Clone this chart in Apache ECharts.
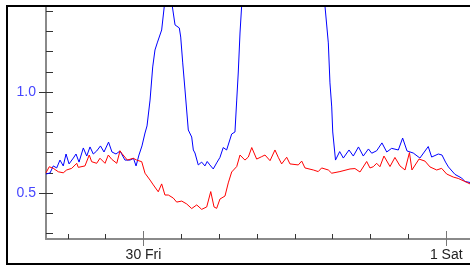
<!DOCTYPE html>
<html>
<head>
<meta charset="utf-8">
<script src="https://cdn.jsdelivr.net/npm/echarts@6/dist/echarts.min.js"></script>
<style>
html,body{margin:0;padding:0;background:#fff;}
#chart{width:470px;height:266px;}
</style>
</head>
<body>
<div id="chart"></div>
<script>
// Hours relative to "30 Fri" 00:00
var blueHours = [-7.73,-7.41,-7.15,-6.88,-6.62,-6.36,-6.14,-5.90,-5.56,-5.35,-5.11,-4.77,-4.50,-4.24,-3.98,-3.71,-3.41,-3.13,-2.77,-2.50,-2.18,-1.86,-1.47,-1.07,-0.79,-0.59,-0.36,-0.12,0.12,0.28,0.52,0.73,0.91,1.09,1.44,1.65,1.94,2.28,2.50,2.84,2.95,3.11,3.29,3.55,3.82,3.95,4.08,4.34,4.61,4.87,5.05,5.26,5.53,5.80,6.06,6.32,6.59,6.99,7.25,7.39,7.51,7.65,7.78,8.04,9.23,12.40,13.99,14.39,14.65,14.78,14.92,15.00,15.22,15.55,15.84,16.29,16.63,17.04,17.42,17.83,18.09,18.48,18.90,19.28,19.67,20.20,20.54,20.89,21.38,21.91,22.57,22.84,23.37,23.66,23.94,24.17,24.69,25.22,25.48,25.88];
var blueValues = [0.594,0.599,0.634,0.624,0.663,0.634,0.693,0.644,0.673,0.693,0.653,0.723,0.683,0.728,0.693,0.708,0.733,0.703,0.752,0.703,0.693,0.708,0.663,0.663,0.671,0.634,0.688,0.733,0.797,0.832,0.960,1.124,1.208,1.243,1.307,1.426,1.554,1.426,1.332,1.317,1.272,1.144,1.010,0.812,0.777,0.713,0.698,0.639,0.653,0.634,0.656,0.639,0.619,0.649,0.676,0.725,0.713,0.792,0.802,0.960,1.094,1.292,1.426,1.75,2.0,2.0,1.7,1.422,1.243,1.045,0.926,0.802,0.663,0.705,0.673,0.713,0.683,0.728,0.683,0.718,0.697,0.709,0.748,0.703,0.721,0.713,0.772,0.708,0.698,0.673,0.730,0.678,0.693,0.688,0.653,0.629,0.592,0.574,0.557,0.552];
var redHours = [-7.73,-7.47,-7.15,-6.75,-6.36,-6.09,-5.69,-5.29,-5.17,-4.64,-4.30,-4.11,-3.71,-3.45,-3.05,-2.79,-2.52,-2.12,-1.86,-1.73,-1.28,-1.07,-0.81,-0.54,-0.14,0.12,0.52,0.78,1.17,1.44,1.70,1.97,2.36,2.63,2.76,3.03,3.42,3.82,4.22,4.61,5.01,5.33,5.59,5.80,6.06,6.46,6.72,6.99,7.39,7.65,7.78,8.04,8.31,8.58,8.97,9.37,9.63,10.03,10.42,10.68,10.95,11.35,11.61,12.27,12.54,12.80,13.46,13.85,14.12,14.65,14.92,15.57,16.37,16.76,17.16,17.69,17.95,18.21,18.48,18.74,19.06,19.54,19.93,20.33,20.73,21.08,21.28,21.84,22.31,22.71,23.24,23.63,24.03,24.55,24.95,25.48,25.88];
var redValues = [0.600,0.630,0.622,0.605,0.600,0.614,0.622,0.647,0.627,0.634,0.688,0.655,0.647,0.672,0.647,0.688,0.667,0.647,0.709,0.697,0.663,0.667,0.672,0.663,0.655,0.598,0.564,0.540,0.506,0.545,0.490,0.490,0.475,0.455,0.450,0.460,0.446,0.423,0.441,0.419,0.431,0.507,0.431,0.424,0.470,0.485,0.550,0.604,0.631,0.688,0.697,0.663,0.678,0.725,0.668,0.680,0.688,0.660,0.713,0.677,0.644,0.677,0.644,0.639,0.658,0.624,0.614,0.606,0.624,0.614,0.598,0.606,0.619,0.621,0.604,0.656,0.624,0.630,0.647,0.630,0.683,0.631,0.676,0.634,0.614,0.700,0.614,0.668,0.658,0.629,0.614,0.622,0.594,0.579,0.572,0.557,0.545];

var xMinorTicks = [-6,-3,3,6,9,12,15,18,21];
var xMajorTicks = [0,24];
var xTickLabels = {0:'30 Fri', 24:'1 Sat'};
var yMinorTicks = [0.3,0.4,0.6,0.7,0.8,0.9,1.1,1.2,1.3,1.4];
var yMajorTicks = [0.5,1.0];

var X_MIN = -7.728, X_MAX = 25.88, Y_MIN = 0.2723, Y_MAX = 1.4257;

function pairs(h, v){ return h.map(function(t,i){ return [t, v[i]]; }); }

var font = 'Liberation Sans, Arial, sans-serif';
function xAxisBase(extra){
  var a = {type:'value', gridIndex:0, position:'bottom', min:X_MIN, max:X_MAX,
    splitLine:{show:false}, axisLine:{show:false, onZero:false}, axisLabel:{show:false}, axisTick:{show:false}};
  for (var k in extra) a[k] = extra[k];
  return a;
}
function yAxisBase(extra){
  var a = {type:'value', gridIndex:0, position:'left', min:Y_MIN, max:Y_MAX,
    splitLine:{show:false}, axisLine:{show:false, onZero:false}, axisLabel:{show:false}, axisTick:{show:false}};
  for (var k in extra) a[k] = extra[k];
  return a;
}

var chart = echarts.init(document.getElementById('chart'), null, {renderer:'canvas'});
chart.setOption({
  animation:false,
  backgroundColor:'#ffffff',
  grid:{left:46, top:6, right:0, bottom:27, containLabel:false},
  xAxis:[
    xAxisBase({axisLine:{show:true, onZero:false, lineStyle:{color:'#8a8a8a', width:2}},
      axisTick:{show:true, inside:true, length:5, customValues:xMinorTicks, lineStyle:{color:'#333', width:1}}}),
    xAxisBase({axisTick:{show:true, inside:true, length:8, customValues:xMajorTicks, lineStyle:{color:'#777', width:1}}}),
    xAxisBase({axisTick:{show:true, inside:false, length:7, customValues:xMajorTicks, lineStyle:{color:'#777', width:1}},
      axisLabel:{show:true, customValues:xMajorTicks, margin:9, color:'#222', fontSize:14, fontFamily:font,
        formatter:function(v){ return xTickLabels[Math.round(v)] || ''; }}})
  ],
  yAxis:[
    yAxisBase({axisLine:{show:true, onZero:false, lineStyle:{color:'#8a8a8a', width:2}},
      axisTick:{show:true, inside:true, length:7, customValues:yMinorTicks, lineStyle:{color:'#333', width:1}}}),
    yAxisBase({axisTick:{show:true, inside:true, length:7, customValues:yMajorTicks, lineStyle:{color:'#333', width:1}}}),
    yAxisBase({axisTick:{show:true, inside:false, length:7, customValues:yMajorTicks, lineStyle:{color:'#333', width:1}},
      axisLabel:{show:true, customValues:yMajorTicks, margin:10, color:'#4646ff', fontSize:14, fontFamily:font,
        formatter:function(v){ return v.toFixed(1); }}})
  ],
  series:[
    {type:'line', xAxisIndex:0, yAxisIndex:0, data:pairs(blueHours, blueValues), showSymbol:false, symbol:'none',
      clip:true, lineStyle:{color:'#0000ff', width:1}, z:2},
    {type:'line', xAxisIndex:0, yAxisIndex:0, data:pairs(redHours, redValues), showSymbol:false, symbol:'none',
      clip:true, lineStyle:{color:'#ff0000', width:1}, z:3}
  ],
  graphic:[{type:'rect', shape:{x:7, y:6, width:475, height:258}, style:{fill:null, stroke:'#000', lineWidth:2}, z:100, silent:true}]
});
</script>
</body>
</html>
